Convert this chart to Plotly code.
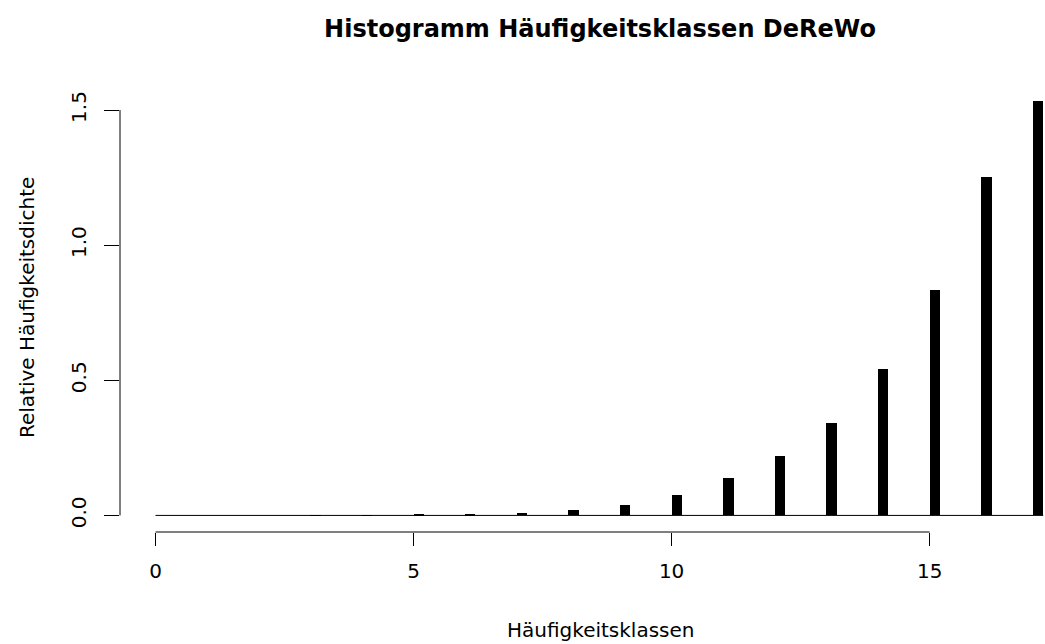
import plotly.graph_objects as go

# ---- data ----
classes = [0, 1, 2, 3, 4, 5, 6, 7, 8, 9, 10, 11, 12, 13, 14, 15, 16, 17]
density = [0.0, 0.0, 0.0, 0.0002, 0.0007, 0.002, 0.0037, 0.0074, 0.0185,
           0.040, 0.077, 0.137, 0.219, 0.342, 0.543, 0.833, 1.254, 1.535]
bin_width = 0.2
x_ticks = [0, 5, 10, 15]
y_ticks = [0.0, 0.5, 1.0, 1.5]
y_tick_labels = ["0.0", "0.5", "1.0", "1.5"]
title = "Histogramm Häufigkeitsklassen DeReWo"
x_title = "Häufigkeitsklassen"
y_title = "Relative Häufigkeitsdichte"

FONT = "DejaVu Sans, Verdana, sans-serif"
W, H = 1045, 644
ML, MR, MT, MB = 120, 0, 84, 112

x_lo = classes[0]
x_hi = classes[-1] + bin_width
span = x_hi - x_lo
full_lo = x_lo - 0.04 * span
full_hi = x_hi + 0.04 * span
# the original plot region extends past the right edge of the image
vis_frac = (W - ML) / 958.7
x_range = [full_lo, full_lo + (full_hi - full_lo) * vis_frac]
ymax = max(density)
y_range = [-0.04 * ymax, 1.04 * ymax]

fig = go.Figure()

# zero baseline made by all histogram bins
fig.add_trace(go.Scatter(
    x=[x_lo, x_hi], y=[0, 0], mode="lines",
    line=dict(color="black", width=1), hoverinfo="skip", showlegend=False))

fig.add_trace(go.Bar(
    x=[c + bin_width / 2 for c in classes], y=density, width=bin_width,
    marker=dict(color="black", line=dict(width=0)), showlegend=False))

fig.update_layout(
    width=W, height=H,
    margin=dict(l=ML, r=MR, t=MT, b=MB, pad=0),
    paper_bgcolor="white", plot_bgcolor="white",
    font=dict(family=FONT, size=20, color="black"),
    title=dict(text="<b>" + title + "</b>", font=dict(size=24, family=FONT),
               xref="container", x=600 / W, xanchor="center",
               yref="container", y=1 - 28.5 / H, yanchor="middle"),
    bargap=0,
)

fig.update_xaxes(
    range=x_range, tickmode="array", tickvals=x_ticks,
    ticks="outside", ticklen=13, tickwidth=1, tickcolor="black",
    showline=False, showgrid=False, zeroline=False,
    tickfont=dict(size=20, family=FONT), ticklabelstandoff=8)

fig.update_yaxes(
    range=y_range, tickmode="array", tickvals=y_ticks, ticktext=y_tick_labels,
    ticks="outside", ticklen=15, tickwidth=1, tickcolor="black",
    tickangle=-90, showline=False, showgrid=False, zeroline=False,
    tickfont=dict(size=20, family=FONT), ticklabelstandoff=10)

# axis lines only spanning the tick range (R style)
fig.add_shape(type="line", xref="x", yref="paper", x0=x_ticks[0], x1=x_ticks[-1],
              y0=0, y1=0, line=dict(color="black", width=1))
fig.add_shape(type="line", xref="paper", yref="y", x0=0, x1=0,
              y0=y_ticks[0], y1=y_ticks[-1], line=dict(color="black", width=1))

plot_w = W - ML - MR
plot_h = H - MT - MB
fig.add_annotation(text=x_title, xref="paper", yref="paper",
                   x=(600 - ML) / plot_w, y=-(630 - (H - MB)) / plot_h,
                   xanchor="center", yanchor="middle", showarrow=False,
                   font=dict(size=20, family=FONT))
fig.add_annotation(text=y_title, xref="paper", yref="paper",
                   x=(27 - ML) / plot_w, y=0.5, textangle=-90,
                   xanchor="center", yanchor="middle", showarrow=False,
                   font=dict(size=20, family=FONT))

fig.write_html("out.html")
